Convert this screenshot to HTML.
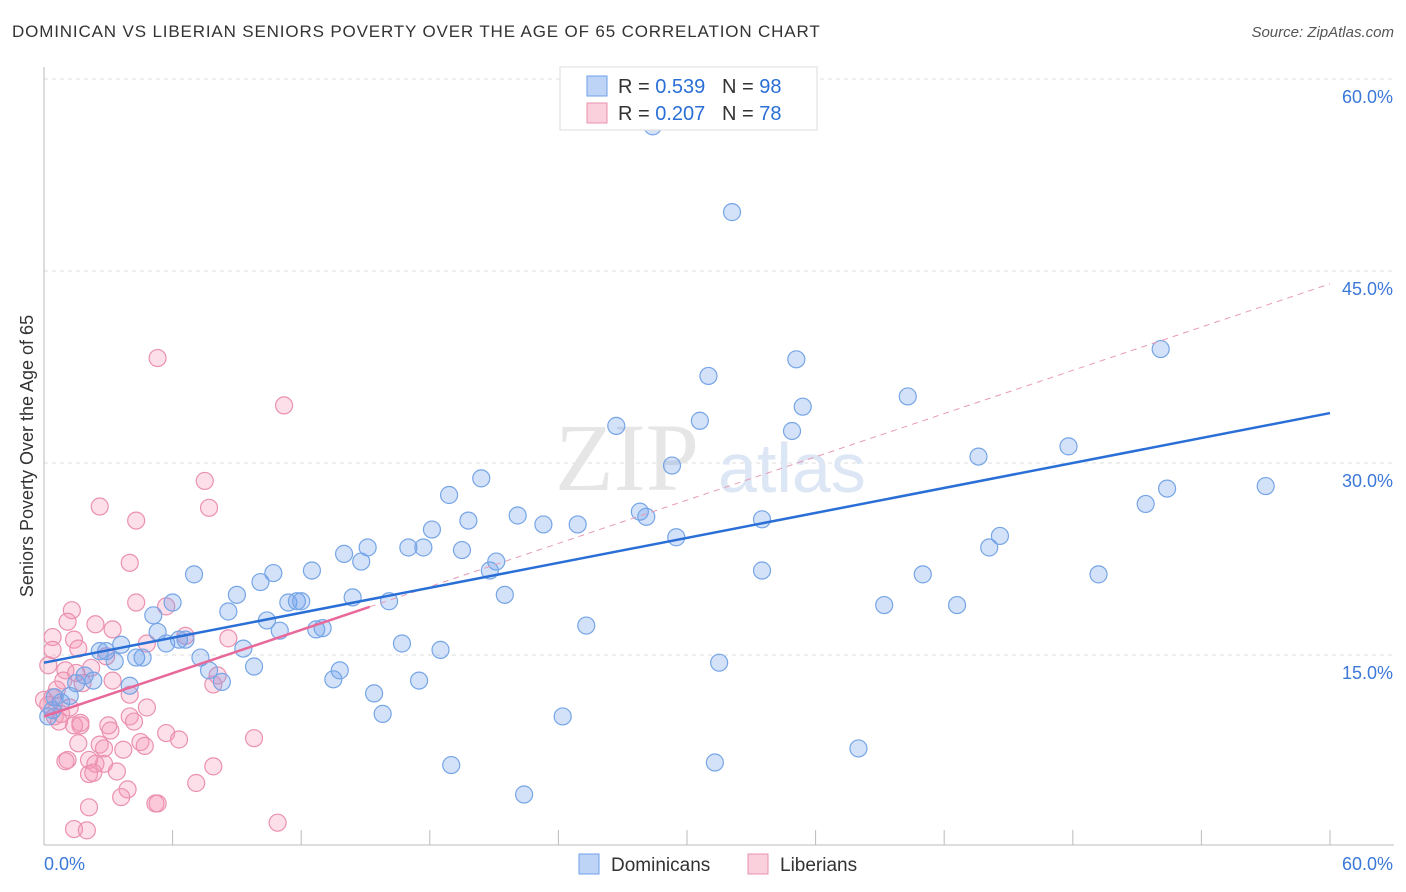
<!DOCTYPE html>
<html><head><meta charset="utf-8">
<style>
body{margin:0;background:#fff;font-family:"Liberation Sans",sans-serif;}
#wrap{position:relative;width:1406px;height:892px;overflow:hidden;}
.title{position:absolute;left:12px;top:22px;font-size:17px;color:#333;letter-spacing:0.85px}
.source{position:absolute;right:12px;top:24px;font-size:15px;color:#555;font-style:italic}
</style></head>
<body>
<div id="wrap">
<div class="title">DOMINICAN VS LIBERIAN SENIORS POVERTY OVER THE AGE OF 65 CORRELATION CHART</div>
<div class="source">Source: ZipAtlas.com</div>
<svg id="chart" width="1406" height="892" style="position:absolute;left:0;top:0"></svg>
</div>
<script>
const xTicks=[0,60];
const yTicks=[15,30,45,60];
const blueX=[28.4,32.1,35.1,52.1,31.0,40.3,35.4,30.6,26.7,34.9,29.3,43.6,47.8,52.4,57.0,51.4,20.4,18.9,19.8,22.1,23.3,24.9,27.8,28.1,29.5,33.5,44.1,44.6,18.1,17.0,17.7,19.5,15.1,14.0,14.8,21.1,20.8,33.5,41.0,49.2,21.5,14.4,16.1,39.2,42.6,25.3,12.5,10.7,10.1,9.0,7.0,6.0,5.1,8.6,10.4,11.4,11.8,12.0,11.0,12.7,13.0,5.3,5.7,6.3,6.6,9.3,7.3,9.8,7.7,8.3,16.7,18.5,13.8,13.5,15.4,17.5,15.8,24.2,31.5,38.0,19.0,31.3,22.4,3.6,2.9,2.6,3.3,4.3,4.6,4.0,2.3,1.9,1.5,1.2,0.8,0.5,0.4,0.2];
const blueY=[56.3,49.6,38.1,38.9,36.8,35.2,34.4,33.3,32.9,32.5,29.8,30.5,31.3,28.0,28.2,26.8,28.8,27.5,25.5,25.9,25.2,25.2,26.2,25.8,24.2,25.6,23.4,24.3,24.8,23.4,23.4,23.2,23.4,22.9,22.3,22.3,21.6,21.6,21.3,21.3,19.7,19.5,19.2,18.9,18.9,17.3,21.6,21.4,20.7,19.7,21.3,19.1,18.1,18.4,17.7,19.1,19.2,19.2,16.9,17.0,17.1,16.8,15.9,16.2,16.2,15.5,14.8,14.1,13.8,12.9,15.9,15.4,13.8,13.1,12.0,13.0,10.4,10.2,14.4,7.7,6.4,6.6,4.1,15.8,15.3,15.3,14.5,14.8,14.8,12.6,13.0,13.4,12.8,11.8,11.3,11.7,10.7,10.2];
const pinkX=[5.3,11.2,7.5,2.6,4.3,7.7,4.0,4.3,5.7,1.3,1.1,2.4,3.2,0.4,1.4,1.6,2.9,4.8,6.6,8.6,2.2,1.0,1.5,0.9,1.8,0.6,0.4,0.2,0.5,0.7,0.8,1.2,1.7,1.4,1.7,3.0,3.1,4.0,4.0,4.2,4.8,5.7,6.3,9.8,1.6,2.6,2.8,3.7,4.5,4.7,1.1,1.0,2.1,2.4,2.8,3.4,2.1,2.3,7.9,7.1,3.9,3.6,5.2,5.3,2.1,1.4,2.0,10.9,7.9,8.1,0.2,0.0,3.2,0.4];
const pinkY=[38.2,34.5,28.6,26.6,25.5,26.5,22.2,19.1,18.8,18.5,17.6,17.4,17.0,16.4,16.2,15.5,14.9,15.9,16.5,16.3,14.0,13.8,13.6,13.0,12.8,12.3,11.7,11.1,10.2,9.8,10.4,10.9,9.5,9.5,9.7,9.5,9.1,11.9,10.2,9.8,10.9,8.9,8.4,8.5,8.1,8.0,7.7,7.6,8.2,7.9,6.8,6.7,6.8,6.5,6.5,5.9,5.7,5.8,6.3,5.0,4.5,3.9,3.4,3.4,3.1,1.4,1.3,1.9,12.7,13.4,14.2,11.5,13.0,15.4];
const blueLine=[14.4,33.9];
const pinkLine=[10.2,44.0];
const pinkSolidEnd=15.2;

const NS="http://www.w3.org/2000/svg";
const svg=document.getElementById('chart');
const X0=44,X1=1330,Y0=847,Y60=79;
const sx=v=>X0+(X1-X0)*v/60;
const sy=v=>Y0-(Y0-Y60)*v/60;
function el(t,a,p){const e=document.createElementNS(NS,t);for(const k in a)e.setAttribute(k,a[k]);(p||svg).appendChild(e);return e;}

yTicks.forEach(t=>{
  const g=el('line',{x1:X0,x2:1394,y1:sy(t),y2:sy(t),stroke:'#ddd','stroke-dasharray':'4,4'});
  
  
  const tx=el('text',{x:1393,y:sy(t)+24,'text-anchor':'end','font-size':'18',fill:'#3b78d8','font-family':'Liberation Sans'});
  tx.textContent=t.toFixed(1)+'%';
  
  
});
let ax=el('line',{x1:X0,x2:X0,y1:67,y2:845,stroke:'#bbb'});


ax=el('line',{x1:X0,x2:1394,y1:845,y2:845,stroke:'#bbb'});


for(let i=0;i<=10;i++){
  const x=sx(i*6);
  const tk=el('line',{x1:x,x2:x,y1:830,y2:845,stroke:'#bbb'});
  
  
}
xTicks.forEach((t,i)=>{
  const tx=el('text',{x:i?1393:44,y:870,'text-anchor':i?'end':'start','font-size':'18',fill:'#3b78d8','font-family':'Liberation Sans'});
  tx.textContent=t.toFixed(1)+'%';
  
  
});
let yt=el('text',{x:0,y:0,'font-size':'18',fill:'#333','text-anchor':'middle','font-family':'Liberation Sans',transform:'translate(33,456) rotate(-90)'});
yt.textContent='Seniors Poverty Over the Age of 65';


let wm=el('text',{x:555,y:490,'font-size':'96','font-family':'Liberation Serif',fill:'#e6e6e6'});
wm.textContent='ZIP';


wm=el('text',{x:718,y:492,'font-size':'70','font-family':'Liberation Sans',fill:'#dce6f4'});
wm.textContent='atlas';



pinkX.forEach((v,i)=>{
  const c=el('circle',{cx:sx(v),cy:sy(pinkY[i]),r:8.5,fill:'rgba(244,150,180,0.3)',stroke:'#eb91b0','stroke-width':1.2});
  
  
});
blueX.forEach((v,i)=>{
  const c=el('circle',{cx:sx(v),cy:sy(blueY[i]),r:8.5,fill:'rgba(110,160,235,0.3)',stroke:'#76a5e6','stroke-width':1.2});
  
  
});
const slope=(pinkLine[1]-pinkLine[0])/60;
let ln=el('line',{x1:sx(pinkSolidEnd),y1:sy(pinkLine[0]+slope*pinkSolidEnd),x2:sx(60),y2:sy(pinkLine[1]),stroke:'#e89ab5','stroke-width':1,'stroke-dasharray':'6,5'});


ln=el('line',{x1:sx(0),y1:sy(pinkLine[0]),x2:sx(pinkSolidEnd),y2:sy(pinkLine[0]+slope*pinkSolidEnd),stroke:'#e8689a','stroke-width':2.5});


ln=el('line',{x1:sx(0),y1:sy(blueLine[0]),x2:sx(60),y2:sy(blueLine[1]),stroke:'#2a6fd6','stroke-width':2.5});



const lg=el('g',{});


el('rect',{x:560,y:67,width:257,height:63,fill:'#fff',stroke:'#ddd'},lg);
[['#6ea0eb','rgba(110,160,235,0.45)','0.539','98',86],['#eb91b0','rgba(244,150,180,0.45)','0.207','78',113]].forEach(r=>{
  el('rect',{x:587,y:r[4]-10,width:20,height:20,fill:r[1],stroke:r[0]},lg);
  const t=el('text',{x:618,y:r[4]+7,'font-size':'20','font-family':'Liberation Sans',fill:'#333'},lg);
  t.innerHTML='R = <tspan fill="#2a6fd6">'+r[2]+'</tspan>&#160;&#160;&#160;N = <tspan fill="#2a6fd6">'+r[3]+'</tspan>';
  
  
});
[['#6ea0eb','rgba(110,160,235,0.45)','Dominicans',579],['#eb91b0','rgba(244,150,180,0.45)','Liberians',748]].forEach(r=>{
  const g=el('g',{});
  
  
  el('rect',{x:r[3],y:854,width:20,height:20,fill:r[1],stroke:r[0]},g);
  const t=el('text',{x:r[3]+32,y:871,'font-size':'19','font-family':'Liberation Sans',fill:'#333'},g);
  t.textContent=r[2];
});
</script>
</body></html>
